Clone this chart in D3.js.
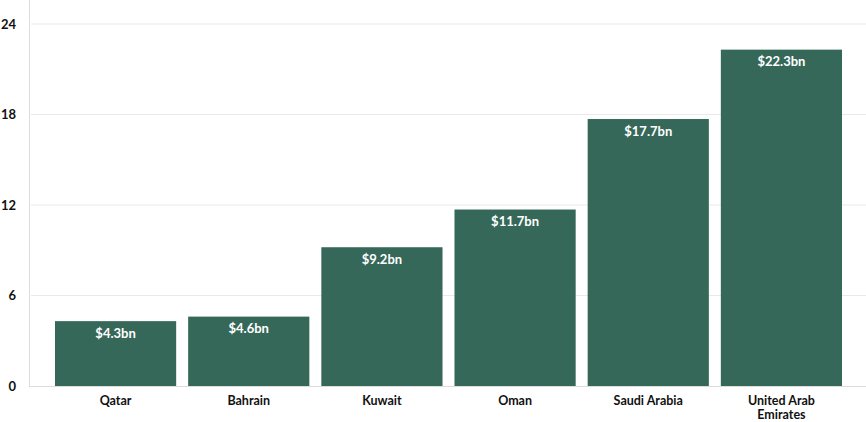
<!DOCTYPE html>
<html><head><meta charset="utf-8">
<script src="https://cdn.jsdelivr.net/npm/d3@7"></script>
<style>
html,body{margin:0;padding:0;background:#fff;}
svg{display:block;font-family:Lato,"Open Sans",sans-serif;}
</style></head>
<body><svg id="chart" width="866" height="422"></svg>
<script>
const categories = ["Qatar", "Bahrain", "Kuwait", "Oman", "Saudi Arabia", "United Arab Emirates"];
const values = [4.3, 4.6, 9.2, 11.7, 17.7, 22.3];
const valueLabels = ["$4.3bn", "$4.6bn", "$9.2bn", "$11.7bn", "$17.7bn", "$22.3bn"];
const yTicks = [0, 6, 12, 18, 24];
const xLabelLines = [["Qatar"], ["Bahrain"], ["Kuwait"], ["Oman"], ["Saudi Arabia"], ["United Arab", "Emirates"]];

const svg = d3.select("#chart");
const x = d3.scaleBand().domain(categories).range([43, 854]).paddingInner(0.09).paddingOuter(0.09);
const y = d3.scaleLinear().domain([0, 24]).range([386, 24]);

// gridlines
svg.append("g").selectAll("line").data(yTicks.filter(d => d > 0)).join("line")
  .attr("x1", 31).attr("x2", 866)
  .attr("y1", d => y(d)).attr("y2", d => y(d))
  .attr("stroke", "#e9e9e9").attr("stroke-width", 1);

// y axis line
svg.append("line").attr("x1", 29.5).attr("x2", 29.5).attr("y1", 0).attr("y2", y(0))
  .attr("stroke", "#dcdcdc").attr("stroke-width", 1);
// baseline
svg.append("line").attr("x1", 29).attr("x2", 866).attr("y1", y(0) + 0.5).attr("y2", y(0) + 0.5)
  .attr("stroke", "#dcdcdc").attr("stroke-width", 1);

// y tick labels
svg.append("g").selectAll("text").data(yTicks).join("text")
  .attr("x", 16).attr("y", d => y(d)).attr("dy", "0.35em")
  .attr("text-anchor", "end").attr("font-size", 13).attr("font-weight", 700).attr("fill", "#111")
  .text(d => d);

// bars
svg.append("g").selectAll("rect").data(categories).join("rect")
  .attr("x", d => x(d)).attr("width", x.bandwidth())
  .attr("y", (d, i) => y(values[i])).attr("height", (d, i) => y(0) - y(values[i]))
  .attr("fill", "#36685a");

// value labels
svg.append("g").selectAll("text").data(categories).join("text")
  .attr("x", d => x(d) + x.bandwidth() / 2)
  .attr("y", (d, i) => y(values[i]) + 12).attr("dy", "0.35em")
  .attr("text-anchor", "middle").attr("font-size", 13).attr("font-weight", 700).attr("fill", "#fff")
  .text((d, i) => valueLabels[i]);

// x labels
const xl = svg.append("g").selectAll("text").data(categories).join("text")
  .attr("x", d => x(d) + x.bandwidth() / 2)
  .attr("y", 405)
  .attr("text-anchor", "middle").attr("font-size", 12.5).attr("font-weight", 700).attr("fill", "#111");
xl.each(function(d, i) {
  const t = d3.select(this);
  xLabelLines[i].forEach((ln, j) => {
    t.append("tspan").attr("x", x(d) + x.bandwidth() / 2).attr("dy", j === 0 ? 0 : 14).text(ln);
  });
});
</script></body></html>
